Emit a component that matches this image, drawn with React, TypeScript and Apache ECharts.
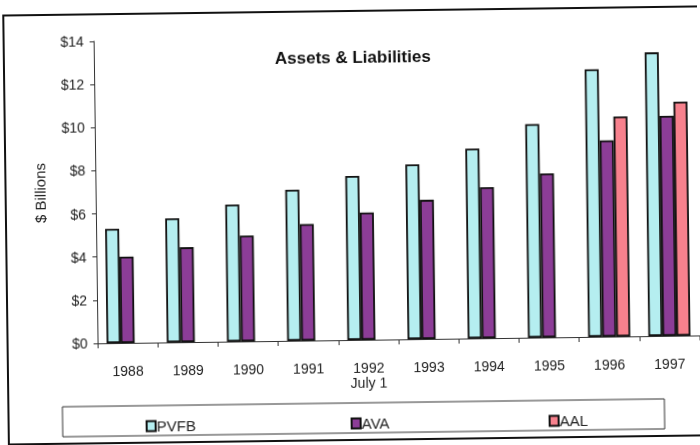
import React, { useEffect, useRef } from "react";
import * as echarts from "echarts";

const years = ["1988", "1989", "1990", "1991", "1992\nJuly 1", "1993", "1994", "1995", "1996", "1997"];
const pvfb = [5.3, 5.75, 6.35, 7.0, 7.6, 8.1, 8.8, 9.9, 12.4, 13.15];
const ava = [4.0, 4.4, 4.9, 5.4, 5.9, 6.45, 7.0, 7.6, 9.1, 10.2];
const aal = [null, null, null, null, null, null, null, null, 10.2, 10.85];
const yTicks = [0, 2, 4, 6, 8, 10, 12, 14];

const FONT = "Liberation Sans, Arial, sans-serif";

export default function App() {
  const ref = useRef<HTMLDivElement>(null);

  useEffect(() => {
    if (!ref.current) return;
    const chart = echarts.init(ref.current, null, { renderer: "svg" });
    const barStyle = (color: string) => ({ color, borderColor: "#111", borderWidth: 1.8 });
    const legendStyle = (left: number, name: string) => ({
      left,
      top: 411,
      data: [name],
      itemWidth: 9,
      itemHeight: 10,
      icon: "rect",
      selectedMode: false,
      textStyle: { fontFamily: FONT, fontSize: 15, color: "#222", padding: [6, 0, 0, -4] },
    });
    chart.setOption({
      animation: false,
      backgroundColor: "#fff",
      title: {
        text: "Assets & Liabilities",
        left: 272,
        top: 44,
        textStyle: { fontFamily: FONT, fontSize: 17, fontWeight: "bold", color: "#111" },
      },
      legend: [legendStyle(138, "PVFB"), legendStyle(343, "AVA"), legendStyle(541, "AAL")],
      grid: { left: 96, right: 2, top: 38, bottom: 105 },
      xAxis: {
        type: "category",
        data: years,
        axisLine: { lineStyle: { color: "#333", width: 1 } },
        axisTick: { show: true, length: 5, lineStyle: { color: "#333" } },
        axisLabel: { fontFamily: FONT, fontSize: 14, color: "#222", margin: 20, lineHeight: 15 },
      },
      yAxis: {
        type: "value",
        min: yTicks[0],
        max: yTicks[yTicks.length - 1],
        interval: 2,
        name: "$ Billions",
        nameLocation: "middle",
        nameGap: 48,
        nameTextStyle: { fontFamily: FONT, fontSize: 15, color: "#222" },
        splitLine: { show: false },
        axisLine: { show: true, lineStyle: { color: "#333", width: 1 } },
        axisTick: { show: true, length: 4, lineStyle: { color: "#333" } },
        axisLabel: {
          fontFamily: FONT,
          fontSize: 14,
          color: "#222",
          margin: 10,
          formatter: (v: number) => "$" + v,
        },
      },
      series: [
        { name: "PVFB", type: "bar", data: pvfb, barGap: "0%", barCategoryGap: "30%", itemStyle: barStyle("#b5eef0") },
        { name: "AVA", type: "bar", data: ava, itemStyle: barStyle("#8c3d97") },
        { name: "AAL", type: "bar", data: aal, itemStyle: barStyle("#f7818d") },
      ],
      graphic: [
        {
          type: "rect",
          shape: { x: 6, y: 11, width: 720, height: 429 },
          style: { fill: "none", stroke: "#111", lineWidth: 2 },
          z: -1,
        },
        {
          type: "rect",
          shape: { x: 60, y: 403, width: 602, height: 30 },
          style: { fill: "none", stroke: "#333", lineWidth: 1 },
          z: -1,
        },
      ],
    });
    return () => chart.dispose();
  }, []);

  return (
    <div
      ref={ref}
      style={{
        position: "fixed",
        left: 0,
        top: 0,
        width: 700,
        height: 445,
        transform: "rotate(-0.75deg)",
        transformOrigin: "350px 222px",
      }}
    />
  );
}
